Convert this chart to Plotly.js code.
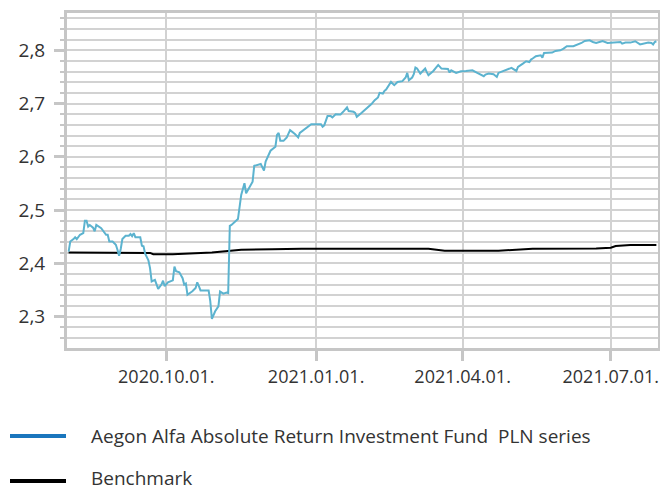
<!DOCTYPE html>
<html>
<head>
<meta charset="utf-8">
<script src="https://cdn.plot.ly/plotly-3.0.1.min.js"></script>
<style>
html,body{margin:0;padding:0;background:#fff;}
#chart{width:660px;height:491px;}
</style>
</head>
<body>
<div id="chart"></div>
<script>
// ---- data ----
const fundName = "Aegon Alfa Absolute Return Investment Fund\u00a0 PLN series";
const benchName = "Benchmark";

const fundDates = [
'2020-08-02','2020-08-03','2020-08-05','2020-08-06','2020-08-07','2020-08-09','2020-08-11','2020-08-12','2020-08-13','2020-08-14',
'2020-08-15','2020-08-17','2020-08-18','2020-08-19','2020-08-22','2020-08-24','2020-08-25','2020-08-26','2020-08-27','2020-08-29',
'2020-08-31','2020-09-01','2020-09-02','2020-09-03','2020-09-04','2020-09-06','2020-09-08','2020-09-09','2020-09-10','2020-09-11',
'2020-09-12','2020-09-15','2020-09-16','2020-09-17','2020-09-18','2020-09-20','2020-09-21','2020-09-22','2020-09-24','2020-09-26',
'2020-09-28','2020-09-29','2020-09-30','2020-10-02','2020-10-05','2020-10-06','2020-10-07','2020-10-09','2020-10-11','2020-10-12',
'2020-10-13','2020-10-14','2020-10-17','2020-10-19','2020-10-20','2020-10-21','2020-10-22','2020-10-27','2020-10-28','2020-10-29',
'2020-10-31','2020-11-02','2020-11-03','2020-11-05','2020-11-07','2020-11-08','2020-11-09','2020-11-10','2020-11-13','2020-11-14',
'2020-11-16','2020-11-18','2020-11-19','2020-11-23','2020-11-24','2020-11-27','2020-11-28','2020-11-30','2020-12-01','2020-12-04',
'2020-12-07','2020-12-08','2020-12-09','2020-12-10','2020-12-12','2020-12-14','2020-12-16','2020-12-19','2020-12-21','2020-12-22',
'2020-12-25','2020-12-28','2020-12-29','2021-01-04','2021-01-05','2021-01-06','2021-01-08','2021-01-10','2021-01-11','2021-01-13',
'2021-01-16','2021-01-18','2021-01-20','2021-01-21','2021-01-24','2021-01-25','2021-01-26','2021-01-29','2021-02-02','2021-02-04',
'2021-02-06','2021-02-08','2021-02-09','2021-02-11','2021-02-12','2021-02-13','2021-02-16','2021-02-18','2021-02-20','2021-02-23',
'2021-02-25','2021-02-26','2021-02-27','2021-03-01','2021-03-02','2021-03-03','2021-03-04','2021-03-06','2021-03-08','2021-03-09',
'2021-03-10','2021-03-11','2021-03-14','2021-03-17','2021-03-19','2021-03-23','2021-03-24','2021-03-25','2021-03-28','2021-03-31',
'2021-04-03','2021-04-07','2021-04-10','2021-04-12','2021-04-14','2021-04-15','2021-04-17','2021-04-20','2021-04-22','2021-04-23',
'2021-04-26','2021-04-29','2021-05-01','2021-05-04','2021-05-05','2021-05-08','2021-05-10','2021-05-12','2021-05-13','2021-05-14',
'2021-05-16','2021-05-19','2021-05-20','2021-05-21','2021-05-26','2021-05-28','2021-05-31','2021-06-02','2021-06-04','2021-06-08',
'2021-06-11','2021-06-13','2021-06-15','2021-06-18','2021-06-20','2021-06-22','2021-06-24','2021-06-26','2021-06-29','2021-07-02',
'2021-07-07','2021-07-08','2021-07-10','2021-07-13','2021-07-16','2021-07-19','2021-07-21','2021-07-24','2021-07-26','2021-07-27',
'2021-07-28','2021-07-29'
];
const fundValues = [
2.422,2.441,2.4455,2.449,2.4455,2.4536,2.4567,2.480,2.480,2.469,
2.472,2.467,2.460,2.472,2.466,2.458,2.4536,2.4536,2.441,2.441,
2.435,2.4255,2.414,2.427,2.4455,2.4517,2.4517,2.455,2.451,2.4567,
2.449,2.449,2.433,2.432,2.418,2.4055,2.391,2.366,2.369,2.352,
2.360,2.3674,2.357,2.3642,2.368,2.394,2.385,2.383,2.372,2.360,
2.362,2.341,2.3475,2.3537,2.3642,2.357,2.349,2.349,2.329,2.2957,
2.310,2.3193,2.347,2.343,2.345,2.344,2.4704,2.472,2.4816,2.483,
2.5285,2.5504,2.5316,2.5534,2.583,2.5846,2.5865,2.574,2.591,2.6114,
2.619,2.641,2.645,2.630,2.630,2.6365,2.650,2.6427,2.6365,2.645,
2.6515,2.6577,2.661,2.661,2.6564,2.659,2.6764,2.6764,2.674,2.680,
2.6795,2.6858,2.6927,2.6858,2.6845,2.6826,2.675,2.6826,2.6927,2.699,
2.7064,2.7114,2.720,2.7188,2.7238,2.7264,2.7406,2.7345,2.7406,2.742,
2.7489,2.7575,2.7438,2.7489,2.755,2.7676,2.7657,2.7563,2.7625,2.7657,
2.759,2.7532,2.7612,2.7725,2.7657,2.765,2.7582,2.7625,2.7575,2.7607,
2.7613,2.7625,2.7575,2.755,2.7513,2.7545,2.7563,2.755,2.750,2.7575,
2.7612,2.7657,2.767,2.7612,2.7687,2.775,2.7794,2.778,2.7825,2.7845,
2.7888,2.7906,2.7863,2.795,2.7956,2.7987,2.800,2.803,2.8075,2.8075,
2.811,2.8137,2.8175,2.8187,2.8156,2.8137,2.8156,2.8175,2.8137,2.8144,
2.8156,2.8125,2.8144,2.8144,2.8169,2.811,2.8125,2.8144,2.8137,2.811,
2.8156,2.817
];

const benchDates = [
'2020-08-02','2020-09-16','2020-09-21','2020-09-23','2020-10-05','2020-10-29','2020-11-05','2020-11-16','2020-12-05','2020-12-23',
'2021-03-11','2021-03-17','2021-03-21','2021-04-23','2021-05-14','2021-06-22','2021-07-01','2021-07-04','2021-07-13','2021-07-29'
];
const benchValues = [
2.4204,2.4204,2.4195,2.417,2.4172,2.4205,2.4223,2.4255,2.4266,2.4273,
2.4273,2.4248,2.4235,2.4235,2.4273,2.428,2.4292,2.4324,2.4343,2.4343
];

const xTickVals = ['2020-10-01','2021-01-01','2021-04-01','2021-07-01'];
const xTickText = ['2020.10.01.','2021.01.01.','2021.04.01.','2021.07.01.'];
const xRange = ['2020-08-01','2021-07-30'];
const yRange = [2.241, 2.87];

// ---- styles ----
const FONT = 'Open Sans, sans-serif';
const TXT = '#333333';
const GRID = '#d2d2d2';
const AX = '#c6c6c6';
const fundColor = '#5cb3cf';
const fundLegendColor = '#1a76bd';
const benchColor = '#000000';

const traces = [
  {x: benchDates, y: benchValues, type: 'scatter', mode: 'lines', name: benchName,
   line: {color: benchColor, width: 2}, hoverinfo: 'skip'},
  {x: fundDates, y: fundValues, type: 'scatter', mode: 'lines', name: fundName,
   line: {color: fundColor, width: 2}, hoverinfo: 'skip'}
];

const plotL = 67, plotR = 658, plotT = 13, plotB = 348;
const W = plotR - plotL, H = plotB - plotT;
function px(xp){ return (xp - plotL) / W; }
function py(yp){ return (plotB - yp) / H; }

const legendItems = [
  {name: fundName, color: fundLegendColor, y: 436, ty: 436},
  {name: benchName, color: benchColor, y: 481, ty: 478}
];

const shapes = legendItems.map(it => ({
  type: 'line', xref: 'paper', yref: 'paper',
  x0: px(10), x1: px(66), y0: py(it.y), y1: py(it.y),
  line: {color: it.color, width: 4}
}));
const annotations = legendItems.map(it => ({
  xref: 'paper', yref: 'paper', x: px(90), y: py(it.ty),
  xanchor: 'left', yanchor: 'middle', showarrow: false, borderpad: 0,
  text: it.name, font: {family: FONT, size: 19, color: TXT}
}));

const layout = {
  width: 660, height: 491,
  margin: {l: plotL, r: 660 - plotR, t: plotT, b: 491 - plotB},
  paper_bgcolor: '#ffffff', plot_bgcolor: '#ffffff',
  separators: ',.',
  showlegend: false,
  xaxis: {
    type: 'date', range: xRange,
    tickmode: 'array', tickvals: xTickVals, ticktext: xTickText,
    showgrid: true, gridcolor: GRID, gridwidth: 2,
    showline: true, linecolor: AX, linewidth: 3, mirror: true,
    ticks: 'outside', ticklen: 10, tickwidth: 3, tickcolor: AX,
    tickfont: {family: FONT, size: 18, color: TXT},
    zeroline: false, fixedrange: true
  },
  yaxis: {
    range: yRange, tick0: 2.3, dtick: 0.1, tickformat: '.1f',
    showgrid: true, gridcolor: GRID, gridwidth: 2,
    minor: {tick0: 2.3, dtick: 0.02, showgrid: true, gridcolor: GRID, gridwidth: 2,
            ticks: 'outside', ticklen: 4, tickwidth: 2, tickcolor: AX},
    showline: true, linecolor: AX, linewidth: 3, mirror: true,
    ticks: 'outside', ticklen: 10, tickwidth: 3, tickcolor: AX,
    ticklabelstandoff: 5,
    tickfont: {family: FONT, size: 19, color: TXT},
    zeroline: false, fixedrange: true
  },
  shapes: shapes,
  annotations: annotations
};

Plotly.newPlot('chart', traces, layout, {displayModeBar: false, staticPlot: true});
</script>
</body>
</html>
